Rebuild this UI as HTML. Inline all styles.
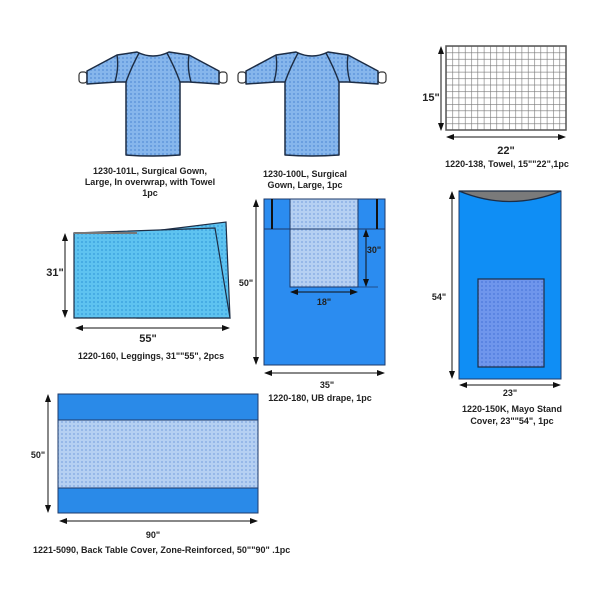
<!DOCTYPE html>
<html><head><meta charset="utf-8"><style>
html,body{margin:0;padding:0;background:#fff;}
svg{display:block;}
text{font-family:"Liberation Sans",Arial,sans-serif;font-weight:bold;fill:#222;}
</style></head><body>
<svg width="600" height="600" viewBox="0 0 600 600" xmlns="http://www.w3.org/2000/svg">
<defs>
<pattern id="dG" width="4" height="4" patternUnits="userSpaceOnUse"><rect width="4" height="4" fill="#86b6ec"/><circle cx="2" cy="2" r="1" fill="#6198dc"/></pattern>
<pattern id="dL" width="4" height="4" patternUnits="userSpaceOnUse"><rect width="4" height="4" fill="#5ec3f0"/><circle cx="2" cy="2" r="1" fill="#3fa6e0"/></pattern>
<pattern id="dP" width="4" height="4" patternUnits="userSpaceOnUse"><rect width="4" height="4" fill="#b5d0f2"/><circle cx="2" cy="2" r="1" fill="#8cb1e6"/></pattern>
<pattern id="dM" width="4" height="4" patternUnits="userSpaceOnUse"><rect width="4" height="4" fill="#6f96ec"/><circle cx="2" cy="2" r="1" fill="#557fe0"/></pattern>
<pattern id="grid" x="446" y="46" width="6.3" height="6.45" patternUnits="userSpaceOnUse"><rect width="6.3" height="6.45" fill="#fff"/><path d="M0 0H6.3M0 0V6.45" stroke="#777" stroke-width="1.2" fill="none"/></pattern>
<marker id="ah" markerWidth="8" markerHeight="8" refX="7" refY="4" orient="auto-start-reverse" markerUnits="userSpaceOnUse"><path d="M0 1L8 4L0 7Z" fill="#111"/></marker>
<g id="gown">
<rect x="-74" y="72" width="8" height="11" rx="3" fill="#fff" stroke="#333" stroke-width="1.2"/>
<rect x="66" y="72" width="8" height="11" rx="3" fill="#fff" stroke="#333" stroke-width="1.2"/>
<path d="M-16 52 Q0 60 16 52 L36 55 L66 71 L66 84 L36 82 L27 82 L27 155 Q0 157 -27 155 L-27 82 L-36 82 L-66 84 L-66 71 L-36 55 Z" fill="url(#dG)" stroke="#1d2d45" stroke-width="1.5" stroke-linejoin="round"/>
<path d="M-14 53 Q-22 68 -27 82 M14 53 Q22 68 27 82 M-36 55 Q-34 68 -38 82 M36 55 Q34 68 38 82" fill="none" stroke="#1d2d45" stroke-width="1.4"/>
</g>
</defs>

<use href="#gown" transform="translate(153,0)"/>
<use href="#gown" transform="translate(312,0)"/>
<g font-size="9" text-anchor="middle">
<text x="150" y="174">1230-101L, Surgical Gown,</text>
<text x="150" y="185">Large, In overwrap, with Towel</text>
<text x="150" y="196">1pc</text>
<text x="305" y="177">1230-100L, Surgical</text>
<text x="305" y="188">Gown, Large, 1pc</text>
</g>

<!-- Towel -->
<rect x="446" y="46" width="120" height="84" fill="url(#grid)" stroke="#555" stroke-width="1.5"/>
<line x1="441" y1="47" x2="441" y2="130" stroke="#111" marker-start="url(#ah)" marker-end="url(#ah)"/>
<text x="431" y="101" font-size="11" text-anchor="middle">15"</text>
<line x1="447" y1="137" x2="565" y2="137" stroke="#111" marker-start="url(#ah)" marker-end="url(#ah)"/>
<text x="506" y="154" font-size="11" text-anchor="middle">22"</text>
<text x="507" y="167" font-size="9" text-anchor="middle">1220-138, Towel, 15""22",1pc</text>

<!-- Leggings -->
<path d="M137 233 L226 222 L230 318 L137 318 Z" fill="url(#dL)" stroke="#1d2d45" stroke-width="1.2"/>
<path d="M74 233 L215 228 L230 318 L74 318 Z" fill="url(#dL)" stroke="#1d2d45" stroke-width="1.2"/>
<path d="M74 233 L137 233" stroke="#777" stroke-width="2"/>
<line x1="65" y1="234" x2="65" y2="317" stroke="#111" marker-start="url(#ah)" marker-end="url(#ah)"/>
<text x="55" y="276" font-size="11" text-anchor="middle">31"</text>
<line x1="76" y1="328" x2="229" y2="328" stroke="#111" marker-start="url(#ah)" marker-end="url(#ah)"/>
<text x="148" y="342" font-size="11" text-anchor="middle">55"</text>
<text x="151" y="359" font-size="9" text-anchor="middle">1220-160, Leggings, 31""55", 2pcs</text>

<!-- UB drape -->
<rect x="264" y="199" width="121" height="166" fill="#2b8cf0" stroke="#1d3a6a" stroke-width="1"/>
<rect x="290" y="199" width="68" height="88" fill="url(#dP)" stroke="#1d3a6a" stroke-width="1"/>
<line x1="264" y1="229" x2="385" y2="229" stroke="#1d3a6a" stroke-width="1"/>
<line x1="272" y1="199" x2="272" y2="229" stroke="#111" stroke-width="2"/>
<line x1="377" y1="199" x2="377" y2="229" stroke="#111" stroke-width="2"/>
<line x1="358" y1="287" x2="378" y2="287" stroke="#1d3a6a" stroke-width="0.8"/>
<line x1="256" y1="200" x2="256" y2="364" stroke="#111" marker-start="url(#ah)" marker-end="url(#ah)"/>
<text x="246" y="286" font-size="9" text-anchor="middle">50"</text>
<line x1="366" y1="230" x2="366" y2="286" stroke="#111" marker-start="url(#ah)" marker-end="url(#ah)"/>
<text x="374" y="253" font-size="9" text-anchor="middle">30"</text>
<line x1="291" y1="292" x2="357" y2="292" stroke="#111" marker-start="url(#ah)" marker-end="url(#ah)"/>
<text x="324" y="305" font-size="9" text-anchor="middle">18"</text>
<line x1="265" y1="373" x2="384" y2="373" stroke="#111" marker-start="url(#ah)" marker-end="url(#ah)"/>
<text x="327" y="388" font-size="9" text-anchor="middle">35"</text>
<text x="320" y="401" font-size="9" text-anchor="middle">1220-180, UB drape, 1pc</text>

<!-- Mayo -->
<rect x="459" y="191" width="102" height="188" fill="#0f8ef5" stroke="#1d3a6a" stroke-width="1"/>
<path d="M459 191 Q510 212 561 191 Z" fill="#7a7a7a" stroke="#1d2d45" stroke-width="1.3"/>
<rect x="478" y="279" width="66" height="88" fill="url(#dM)" stroke="#1d2d45" stroke-width="1.2"/>
<line x1="452" y1="192" x2="452" y2="378" stroke="#111" marker-start="url(#ah)" marker-end="url(#ah)"/>
<text x="439" y="300" font-size="9" text-anchor="middle">54"</text>
<line x1="460" y1="385" x2="560" y2="385" stroke="#111" marker-start="url(#ah)" marker-end="url(#ah)"/>
<text x="510" y="396" font-size="9" text-anchor="middle">23"</text>
<text x="512" y="412" font-size="9" text-anchor="middle">1220-150K, Mayo Stand</text>
<text x="512" y="424" font-size="9" text-anchor="middle">Cover, 23""54", 1pc</text>

<!-- Back table -->
<rect x="58" y="394" width="200" height="119" fill="#2a8ae8" stroke="#1d3a6a" stroke-width="1"/>
<rect x="58" y="420" width="200" height="68" fill="url(#dP)" stroke="#1d3a6a" stroke-width="1"/>
<line x1="48" y1="395" x2="48" y2="512" stroke="#111" marker-start="url(#ah)" marker-end="url(#ah)"/>
<text x="38" y="458" font-size="9" text-anchor="middle">50"</text>
<line x1="60" y1="521" x2="257" y2="521" stroke="#111" marker-start="url(#ah)" marker-end="url(#ah)"/>
<text x="153" y="538" font-size="9" text-anchor="middle">90"</text>
<text x="33" y="553" font-size="9">1221-5090, Back Table Cover, Zone-Reinforced, 50""90" .1pc</text>
</svg>
</body></html>
